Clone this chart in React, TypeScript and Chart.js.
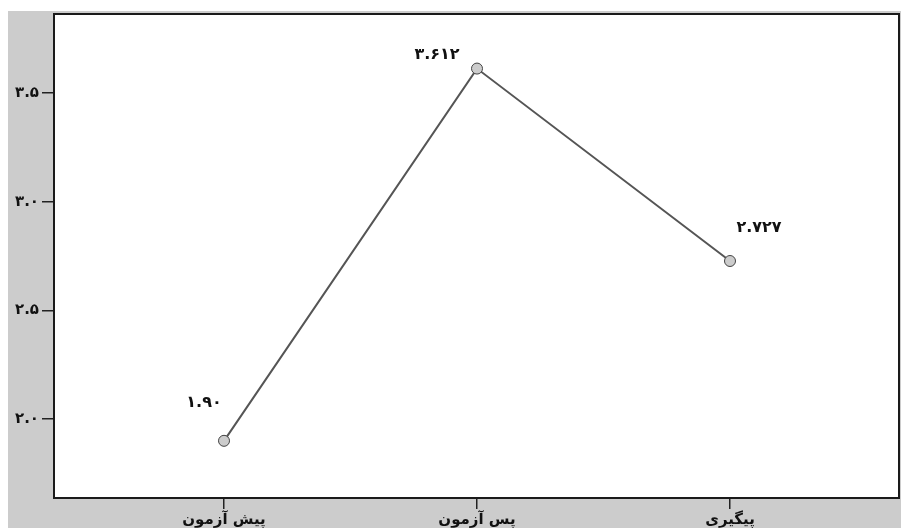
import React, { useEffect, useRef } from "react";
import { Chart, registerables } from "chart.js";
Chart.register(...registerables);

const categories = ["پیش آزمون", "پس آزمون", "پیگیری"];
const means = [1.9, 3.612, 2.727];
const valueLabels = ["۱.۹۰", "۳.۶۱۲", "۲.۷۲۷"];
const yTicks = [2.0, 2.5, 3.0, 3.5];
const yTickLabels = ["۲.۰", "۲.۵", "۳.۰", "۳.۵"];

const FONT = "'DejaVu Sans', sans-serif";
const labelOffsets = [
  [-20, -38],
  [-40, -14],
  [29, -33],
];

const framePlugin = {
  id: "frame",
  beforeDraw(chart: any) {
    const { ctx, chartArea: a } = chart;
    ctx.save();
    ctx.fillStyle = "#ffffff";
    ctx.fillRect(a.left, a.top, a.right - a.left, a.bottom - a.top);
    ctx.restore();
  },
  afterDraw(chart: any) {
    const { ctx, chartArea: a } = chart;
    ctx.save();
    ctx.strokeStyle = "#1a1a1a";
    ctx.lineWidth = 2;
    ctx.strokeRect(a.left, a.top, a.right - a.left, a.bottom - a.top);
    const meta = chart.getDatasetMeta(0);
    ctx.fillStyle = "#111";
    ctx.font = `bold 16px ${FONT}`;
    ctx.textAlign = "center";
    ctx.textBaseline = "middle";
    meta.data.forEach((pt: any, i: number) => {
      const [dx, dy] = labelOffsets[i];
      ctx.fillText(valueLabels[i], pt.x + dx, pt.y + dy);
    });
    ctx.restore();
  },
};

export default function App() {
  const ref = useRef<HTMLCanvasElement>(null);
  useEffect(() => {
    if (!ref.current) return;
    const chart = new Chart(ref.current, {
      type: "line",
      data: {
        datasets: [
          {
            data: means.map((v, i) => ({ x: i, y: v })),
            borderColor: "#555555",
            borderWidth: 2,
            pointRadius: 5.5,
            pointBackgroundColor: "#cccccc",
            pointBorderColor: "#444444",
            pointBorderWidth: 1,
            tension: 0,
          },
        ],
      },
      options: {
        animation: false,
        responsive: false,
        layout: { autoPadding: false, padding: { top: 3, right: 2, left: 0, bottom: 0 } },
        plugins: { legend: { display: false }, tooltip: { enabled: false } },
        scales: {
          x: {
            type: "linear",
            min: -0.672,
            max: 2.668,
            afterBuildTicks: (s: any) => {
              s.ticks = categories.map((_, i) => ({ value: i }));
            },
            afterFit: (s: any) => {
              s.height = 30;
              s.paddingLeft = 0;
              s.paddingRight = 0;
            },
            ticks: {
              callback: (v: any) => categories[v as number] ?? "",
              color: "#111",
              font: { family: FONT, size: 15, weight: "bold" },
              padding: 2,
              maxRotation: 0,
              autoSkip: false,
            },
            grid: {
              display: true,
              drawOnChartArea: false,
              drawTicks: true,
              tickLength: 11,
              color: "#222",
              lineWidth: 1.5,
            },
            border: { display: false },
          },
          y: {
            min: 1.637,
            max: 3.863,
            afterBuildTicks: (s: any) => {
              s.ticks = yTicks.map((v) => ({ value: v }));
            },
            afterFit: (s: any) => {
              s.width = 46;
              s.paddingTop = 0;
              s.paddingBottom = 0;
            },
            ticks: {
              callback: (v: any) => yTickLabels[yTicks.indexOf(v as number)] ?? "",
              color: "#111",
              font: { family: FONT, size: 15, weight: "bold" },
              padding: 3,
            },
            grid: {
              display: true,
              drawOnChartArea: false,
              drawTicks: true,
              tickLength: 12,
              color: "#222",
              lineWidth: 1.5,
            },
            border: { display: false },
          },
        },
      },
      plugins: [framePlugin],
    } as any);
    return () => chart.destroy();
  }, []);
  return (
    <div style={{ position: "fixed", left: 8, top: 11, width: 893, height: 517 }}>
      <canvas
        ref={ref}
        width={893}
        height={517}
        style={{ display: "block", background: "#cccccc", width: 893, height: 517 }}
      />
    </div>
  );
}
